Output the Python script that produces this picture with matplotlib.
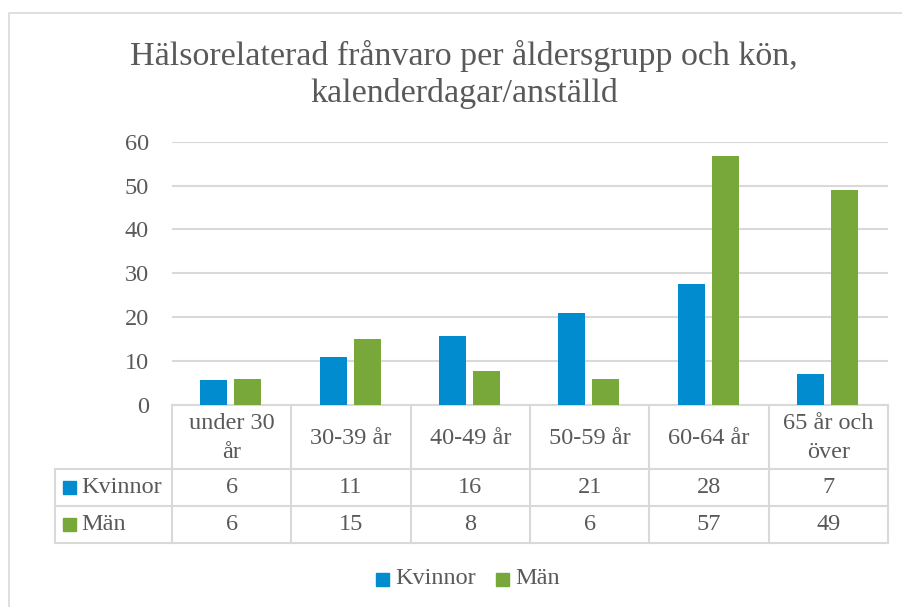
import matplotlib
matplotlib.use('Agg')
import matplotlib.pyplot as plt
from matplotlib.patches import Rectangle
from matplotlib.lines import Line2D

# ---------------- data ----------------
categories = ['under 30\når', '30-39 år', '40-49 år', '50-59 år', '60-64 år', '65 år och\növer']
series_names = ['Kvinnor', 'Män']
kvinnor = [5.8, 11.0, 15.8, 20.9, 27.6, 7.0]
man = [5.9, 15.0, 7.8, 5.9, 56.8, 49.0]
yticks = [0, 10, 20, 30, 40, 50, 60]
title_lines = ['Hälsorelaterad frånvaro per åldersgrupp och kön,', 'kalenderdagar/anställd']

# ---------------- style ----------------
W, H = 902, 607
FONT = 'Liberation Serif'
TXT = '#595959'
GRID = '#d9d9d9'
BLUE = '#008ccf'
GREEN = '#78a83a'
colors = [BLUE, GREEN]
FS = 17.5

plt.rcParams['font.family'] = [FONT, 'DejaVu Serif']

fig = plt.figure(figsize=(W / 100, H / 100), dpi=100)

# overlay axes in pixel coordinates (y downwards)
ov = fig.add_axes([0, 0, 1, 1])
ov.set_xlim(0, W)
ov.set_ylim(H, 0)
ov.axis('off')

# plot area
PX_L, PX_R, PX_TOP, PX_ZERO = 172, 888, 141.7, 405
ax = fig.add_axes([PX_L / W, 1 - PX_ZERO / H, (PX_R - PX_L) / W, (PX_ZERO - PX_TOP) / H])
ax.patch.set_alpha(0)
n = len(categories)
x = list(range(n))
bw = 0.226
offs = [-0.149, 0.136]
for vals, off, c in zip([kvinnor, man], offs, colors):
    ax.bar([i + off for i in x], vals, width=bw, color=c, zorder=3)
ax.set_xlim(-0.5, n - 0.5)
ax.set_ylim(yticks[0], yticks[-1])
ax.set_yticks(yticks)
ax.set_yticklabels([str(t) for t in yticks], fontsize=FS, color=TXT)
ax.tick_params(axis='y', length=0, pad=16.5)
ax.set_xticks([])
for s in ax.spines.values():
    s.set_visible(False)
ax.yaxis.grid(True, color=GRID, lw=1.5, zorder=0)
ax.set_axisbelow(True)

# ---------------- frame ----------------
ov.add_line(Line2D([9, 9, W], [H, 13, 13], color=GRID, lw=1.2))

# ---------------- title ----------------
ov.text(464, 65, title_lines[0], ha='center', va='baseline', fontsize=24.5, color=TXT)
ov.text(464, 101.7, title_lines[1], ha='center', va='baseline', fontsize=24.5, color=TXT)

# ---------------- data table ----------------
cw = (PX_R - PX_L) / n
col_edges = [PX_L + i * cw for i in range(n + 1)]
row_y = [405, 469, 506, 543]
LBL_L = 55
tl = dict(color=GRID, lw=1.5)
ov.add_line(Line2D([PX_L, PX_R], [row_y[0], row_y[0]], **tl))
for yy in row_y[1:]:
    ov.add_line(Line2D([LBL_L, PX_R], [yy, yy], **tl))
for xx in col_edges:
    ov.add_line(Line2D([xx, xx], [row_y[0], row_y[-1]], **tl))
ov.add_line(Line2D([LBL_L, LBL_L], [row_y[1], row_y[-1]], **tl))

for i, cat in enumerate(categories):
    cx = (col_edges[i] + col_edges[i + 1]) / 2
    ov.text(cx, (row_y[0] + row_y[1]) / 2 + 1, cat, ha='center', va='center',
            fontsize=FS, color=TXT, linespacing=1.45)
    for r, vals in enumerate([kvinnor, man]):
        ov.text(cx, (row_y[r + 1] + row_y[r + 2]) / 2, f'{vals[i]:.0f}', ha='center',
                va='center', fontsize=FS, color=TXT)

for r, (name, c) in enumerate(zip(series_names, colors)):
    cy = (row_y[r + 1] + row_y[r + 2]) / 2
    ov.add_patch(Rectangle((63, cy - 6.5), 13, 13, color=c))
    ov.text(81.5, cy, name, ha='left', va='center', fontsize=FS, color=TXT)

# ---------------- legend ----------------
leg_y = 579
for name, c, sx in zip(series_names, colors, [376, 496]):
    ov.add_patch(Rectangle((sx, leg_y - 6.5), 13, 13, color=c))
    ov.text(sx + 19, leg_y, name, ha='left', va='center', fontsize=FS, color=TXT)

fig.savefig('out.png', dpi=100)
